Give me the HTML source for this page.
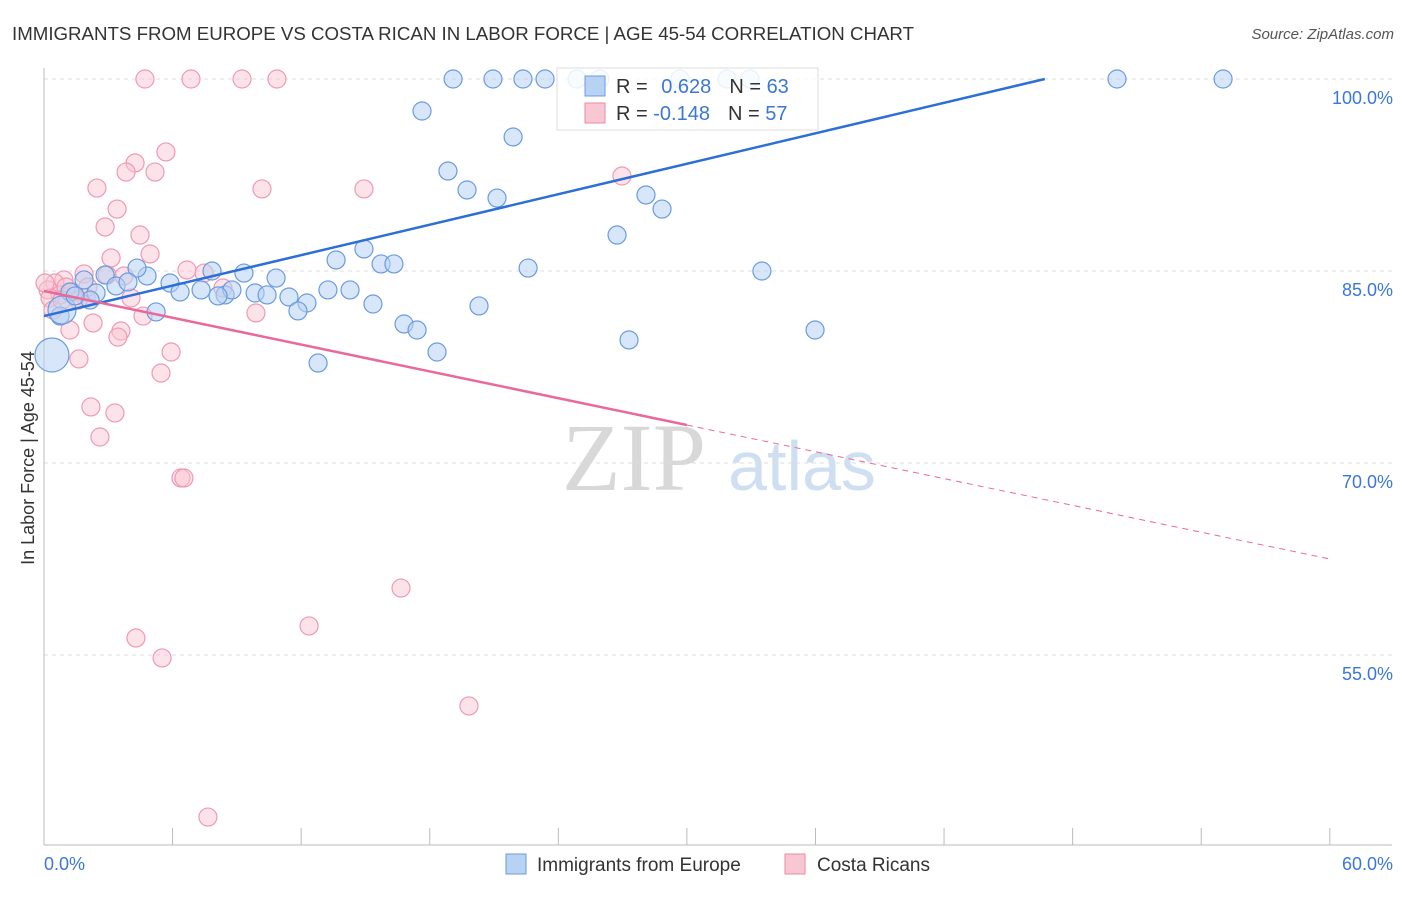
<!DOCTYPE html>
<html><head><meta charset="utf-8"><style>
body{margin:0;background:#fff;font-family:"Liberation Sans",sans-serif}
svg text{font-family:"Liberation Sans",sans-serif}
</style></head><body>
<svg id="c" width="1406" height="892" xmlns="http://www.w3.org/2000/svg">
<text x="12" y="40" font-size="18.7" fill="#333">IMMIGRANTS FROM EUROPE VS COSTA RICAN IN LABOR FORCE | AGE 45-54 CORRELATION CHART</text>
<text x="1394" y="39" font-size="15" fill="#555" text-anchor="end" font-style="italic">Source: ZipAtlas.com</text>
<text x="34" y="458" font-size="18" fill="#333" text-anchor="middle" transform="rotate(-90 34 458)">In Labor Force | Age 45-54</text>
<g><text x="634" y="490" font-size="96" fill="#d8d8d8" text-anchor="middle" style="font-family:'Liberation Serif',serif">ZIP</text><text x="802" y="490" font-size="70" fill="#cfdff2" text-anchor="middle">atlas</text></g>
<g id="grid"></g><g id="marks"></g><g id="lines"></g>
<g>
<rect x="557" y="68" width="261" height="62" fill="#fff" fill-opacity="0.85" stroke="#ddd"/>
<rect x="585" y="76" width="20" height="20" fill="#b8d2f4" stroke="#6a9be0"/>
<rect x="585" y="103" width="20" height="20" fill="#f9c6d4" stroke="#eb8aa6"/>
<text x="616" y="93" font-size="20" fill="#333">R = <tspan fill="#3b77d6" dx="8">0.628</tspan><tspan dx="18" fill="#333">N = </tspan><tspan fill="#3b77d6">63</tspan></text>
<text x="616" y="120" font-size="20" fill="#333">R = <tspan fill="#3b77d6">-0.148</tspan><tspan dx="18" fill="#333">N = </tspan><tspan fill="#3b77d6">57</tspan></text>
</g>
<g>
<rect x="506" y="854" width="20" height="20" fill="#b8d2f4" stroke="#6a9be0"/>
<text x="537" y="871" font-size="19" fill="#333">Immigrants from Europe</text>
<rect x="785" y="854" width="20" height="20" fill="#f9c6d4" stroke="#eb8aa6"/>
<text x="817" y="871" font-size="19" fill="#333">Costa Ricans</text>
</g>
</svg>
<script>
const yTicks=[100,85,70,55];
const yTickLabels=["100.0%","85.0%","70.0%","55.0%"];
const xTickLabels=["0.0%","60.0%"];
const blueX=[19.09,20.95,22.35,23.38,24.87,25.94,29.68,31.87,32.94,50.07,55.02,17.64,21.89,18.85,19.74,21.14,28.09,28.84,26.74,14.93,13.63,15.73,16.33,22.59,33.5,7.84,9.33,10.83,4.81,4.34,2.85,1.87,3.36,5.88,6.35,7.33,8.45,8.77,9.85,10.41,11.43,12.27,11.85,13.25,14.28,15.35,20.3,16.8,17.41,18.34,27.3,35.98,12.79,5.23,2.43,1.21,0.75,0.37,0.84,2.15,1.45,3.92,8.12];
const blueY=[100,100,100,100,100,100,100,100,100,100,100,97.5,95.47,92.81,91.33,90.7,90.94,89.84,87.81,86.72,85.86,85.55,85.55,85.23,85.0,85.0,84.84,84.45,84.61,85.23,84.69,84.3,83.83,84.06,83.36,83.52,83.13,83.52,83.28,83.13,82.97,82.5,81.88,83.52,83.52,82.42,82.27,80.86,80.39,78.67,79.61,80.39,77.81,81.8,83.28,83.36,81.48,78.44,81.95,82.73,83.05,84.14,83.05];
const blueR=[9,9,9,9,9,9,9,9,9,9,9,9,9,9,9,9,9,9,9,9,9,9,9,9,9,9,9,9,9,9,9,9,9,9,9,9,9,9,9,9,9,9,9,9,9,9,9,9,9,9,9,9,9,9,9,9,9,17,14,9,9,9,9];
const pinkX=[4.71,6.86,9.24,10.87,5.69,4.25,3.83,5.18,2.47,10.17,14.93,26.97,3.41,2.85,4.48,4.95,3.13,6.67,7.47,1.87,0.93,0.51,3.73,2.94,0.19,0.75,1.31,1.96,4.06,8.35,9.89,4.62,2.29,3.59,3.45,1.21,1.63,5.93,5.46,2.19,3.31,2.61,6.39,6.53,16.66,12.37,4.29,5.51,19.83,7.65,0.28,1.03,2.05,1.59,0.42,0.84,0.05];
const pinkY=[100,100,100,100,94.3,93.44,92.73,92.73,91.48,91.41,91.41,92.42,89.84,88.44,87.81,86.33,86.02,85.08,84.84,84.77,84.3,84.06,84.61,84.69,83.52,83.13,83.36,82.89,82.89,83.67,81.72,81.48,80.94,80.31,79.84,80.39,78.13,78.67,77.03,74.38,73.91,72.03,68.83,68.83,60.23,57.27,56.33,54.77,51.02,42.34,82.89,83.75,83.75,82.73,81.95,82.73,84.06];
const blueTrend=[[0,81.48],[46.7,100]];
const pinkTrend=[[0,83.44],[30,72.97]];
const pinkDash=[[30,72.97],[60,62.5]];
const X=v=>44+v*21.43, Y=v=>79+(100-v)*12.8;
const NS="http://www.w3.org/2000/svg";
function mk(t,a,p){const e=document.createElementNS(NS,t);for(const k in a)e.setAttribute(k,a[k]);p.appendChild(e);return e;}
const g=document.getElementById('grid'),m=document.getElementById('marks'),l=document.getElementById('lines');
yTicks.forEach((t,i)=>{const ln=mk('line',{x1:44,x2:1392,y1:Y(t),y2:Y(t),stroke:'#ddd','stroke-dasharray':'4 4'},g);


const tx=mk('text',{x:1393,y:Y(t)+25,'font-size':18,fill:'#3b77d6','text-anchor':'end'},g);tx.textContent=yTickLabels[i];

});
const ax=mk('line',{x1:44,x2:44,y1:68,y2:845,stroke:'#bbb'},g);


const bx=mk('line',{x1:44,x2:1392,y1:845,y2:845,stroke:'#bbb'},g);


for(let i=1;i<=10;i++){const tk=mk('line',{x1:X(i*6),x2:X(i*6),y1:828,y2:845,stroke:'#bbb'},g);

}
[[0,'start',44],[60,'end',1393]].forEach((d,i)=>{const t=mk('text',{x:d[2],y:870,'font-size':18,fill:'#3b77d6','text-anchor':d[1]},g);t.textContent=xTickLabels[i];

});
pinkX.forEach((v,i)=>{const c=mk('circle',{cx:X(v),cy:Y(pinkY[i]),r:9,fill:'#f9c6d4','fill-opacity':0.5,stroke:'#ee9ab2','stroke-width':1.2},m);

});
blueX.forEach((v,i)=>{const c=mk('circle',{cx:X(v),cy:Y(blueY[i]),r:blueR[i],fill:'#b8d2f4','fill-opacity':0.55,stroke:'#6a9be0','stroke-width':1.2},m);

});
function line(p,col,w,dash,name){const e=mk('line',{x1:X(p[0][0]),y1:Y(p[0][1]),x2:X(p[1][0]),y2:Y(p[1][1]),stroke:col,'stroke-width':w},l);if(dash)e.setAttribute('stroke-dasharray',dash);

}
line(blueTrend,'#2c6fd6',2.5,null,'trend-europe');
line(pinkTrend,'#e8699a',2.5,null,'trend-costa-rican');
line(pinkDash,'#e8699a',1,'6 5','trend-costa-rican-extension');
</script>
</body></html>
